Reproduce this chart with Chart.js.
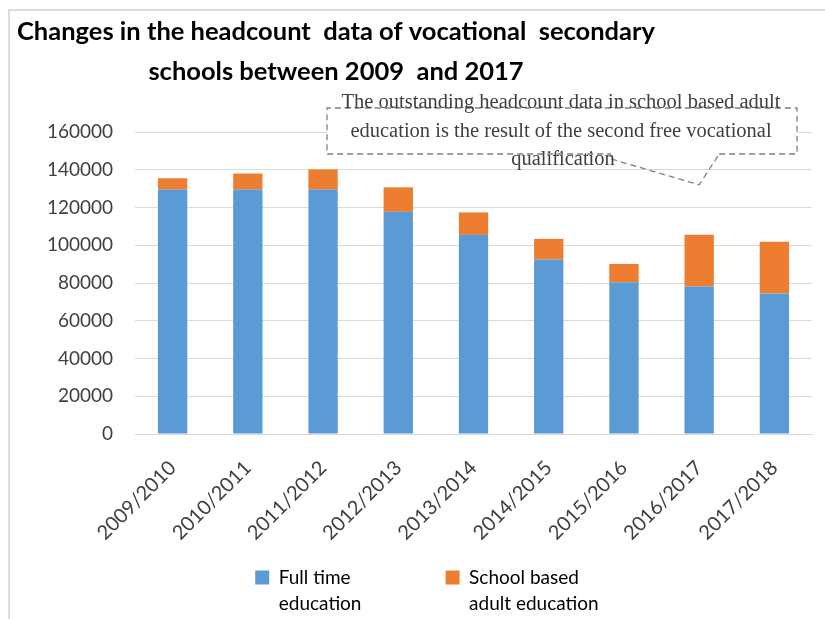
<!DOCTYPE html>
<html>
<head>
<meta charset="utf-8">
<script src="https://cdn.jsdelivr.net/npm/chart.js@4/dist/chart.umd.min.js"></script>
<style>
  body { margin: 0; background: #fff; }
  canvas { display: block; }
</style>
</head>
<body>
<canvas id="chart" width="825" height="619"></canvas>
<script>
const categories = ['2009/2010', '2010/2011', '2011/2012', '2012/2013', '2013/2014',
                    '2014/2015', '2015/2016', '2016/2017', '2017/2018'];
const fullTime = [129500, 129500, 129500, 117700, 105500, 92400, 80400, 78100, 74500];
const adultEd = [6000, 8500, 10700, 13000, 11900, 11000, 9700, 27500, 27400];
const yTicks = [0, 20000, 40000, 60000, 80000, 100000, 120000, 140000, 160000];

const titleLines = ['Changes in the headcount  data of vocational  secondary',
                    'schools between 2009  and 2017'];
const noteLines = ['The outstanding headcount data in school based adult',
                   'education is the result of the second free vocational',
                   'qualification'];

const labelFont = "Lato, 'Open Sans', sans-serif";

// draws text squeezed horizontally by sx, centred on cx
function squeezedText(ctx, text, cx, cy, sx) {
  ctx.save();
  ctx.translate(cx, cy);
  ctx.scale(sx, 1);
  ctx.fillText(text, 0, 0);
  ctx.restore();
}

// thin frame, two-line heading and the dashed callout
const decor = {
  id: 'decor',
  afterLayout(chart) {
    // nudge the legend block right and give room for its second text line
    const lg = chart.legend;
    lg.left += 156;
    lg.bottom += 30;
    lg.height += 30;
  },
  beforeDraw(chart) {
    const ctx = chart.ctx;
    ctx.save();
    ctx.fillStyle = '#fff';
    ctx.fillRect(0, 0, chart.width, chart.height);
    ctx.strokeStyle = '#dcdcdc';
    ctx.lineWidth = 2;
    ctx.beginPath();
    ctx.moveTo(9, chart.height);
    ctx.lineTo(9, 10);
    ctx.lineTo(chart.width, 10);
    ctx.stroke();
    ctx.restore();
  },
  afterDraw(chart) {
    const ctx = chart.ctx;
    ctx.save();
    ctx.fillStyle = '#000';
    ctx.font = "bold 25px Lato, sans-serif";
    ctx.textBaseline = 'middle';
    ctx.textAlign = 'center';
    const sx = 638 / ctx.measureText(titleLines[0]).width;
    squeezedText(ctx, titleLines[0], 336, 32, sx);
    squeezedText(ctx, titleLines[1], 336, 72, sx);

    // callout box
    const x = chart.scales.x, y = chart.scales.y;
    const tipX = x.getPixelForValue(7), tipY = y.getPixelForValue(132000);
    const bx = 327, by = 108, bw = 470, bh = 46;
    ctx.fillStyle = '#fff';
    ctx.fillRect(bx, by, bw, bh);
    ctx.strokeStyle = '#808080';
    ctx.lineWidth = 1.3;
    ctx.setLineDash([6, 4]);
    ctx.beginPath();
    ctx.moveTo(tipX + 20, by + bh);
    ctx.lineTo(bx + bw, by + bh);
    ctx.lineTo(bx + bw, by);
    ctx.lineTo(bx, by);
    ctx.lineTo(bx, by + bh);
    ctx.lineTo(tipX - 88, by + bh);
    ctx.stroke();
    ctx.beginPath();
    ctx.moveTo(tipX - 88, by + bh + 5);
    ctx.lineTo(tipX, tipY);
    ctx.lineTo(tipX + 20, by + bh);
    ctx.stroke();
    ctx.setLineDash([]);

    ctx.fillStyle = '#3f3f3f';
    ctx.font = "20.5px 'Liberation Serif', 'DejaVu Serif', serif";
    ctx.fillText(noteLines[0], 561, 103);
    ctx.fillText(noteLines[1], 561, 132);
    ctx.fillText(noteLines[2], 563, 160);
    ctx.restore();
  }
};

new Chart(document.getElementById('chart'), {
  type: 'bar',
  data: {
    labels: categories,
    datasets: [
      { label: ['Full time', 'education'], data: fullTime, backgroundColor: '#5b9bd5' },
      { label: ['School based', 'adult education'], data: adultEd, backgroundColor: '#ed7d31' }
    ]
  },
  options: {
    responsive: false,
    animation: false,
    barPercentage: 0.39,
    categoryPercentage: 1,
    layout: { padding: { top: 132, right: 13, left: 0, bottom: 22 } },
    scales: {
      x: {
        stacked: true,
        grid: { display: false },
        border: { color: '#d9d9d9' },
        ticks: { color: '#404040', font: { family: labelFont, size: 20 }, minRotation: 45, maxRotation: 45, padding: 14 },
        afterFit(scale) { scale.height = 126; }
      },
      y: {
        stacked: true,
        min: 0,
        max: 160000,
        afterBuildTicks(scale) { scale.ticks = yTicks.map(v => ({ value: v })); },
        grid: { color: '#d9d9d9', drawTicks: false },
        border: { display: false },
        ticks: { color: '#404040', font: { family: labelFont, size: 19 }, padding: 22, callback: v => String(v) },
        afterFit(scale) { scale.width = 135; }
      }
    },
    plugins: {
      legend: {
        position: 'bottom',
        labels: {
          boxWidth: 14, boxHeight: 14, padding: 8, color: '#000',
          font: { family: labelFont, size: 19, lineHeight: 1.4 }
        }
      },
      tooltip: { enabled: false }
    }
  },
  plugins: [decor]
});
</script>
</body>
</html>
